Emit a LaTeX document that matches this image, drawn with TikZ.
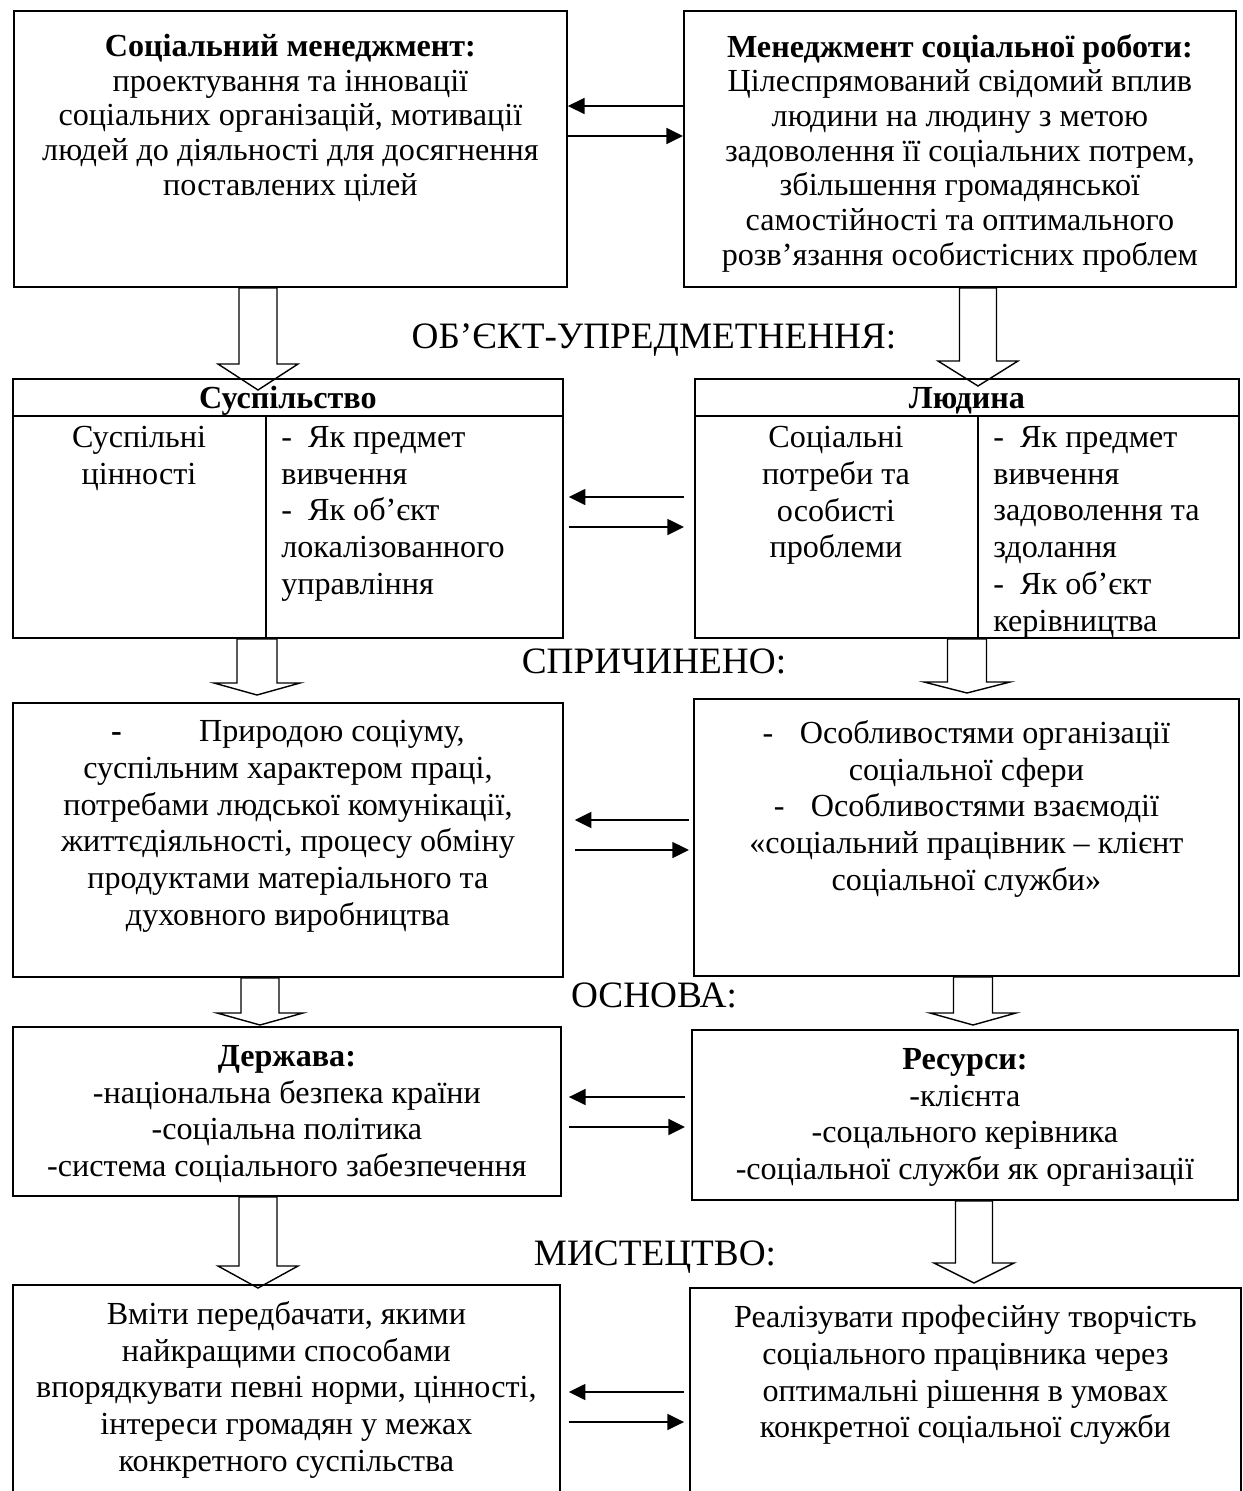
\documentclass[tikz,border=0pt]{standalone}
\usepackage{fontspec}
\setmainfont{Liberation Serif}
\usepackage{tikz}
\usetikzlibrary{positioning, calc, arrows.meta}

\newcommand{\bodysize}{\fontsize{18.3}{20.9}\selectfont}
\newcommand{\topsize}{\fontsize{18.3}{19.7}\selectfont}
\newcommand{\headsize}{\fontsize{21.2}{24}\selectfont}

\tikzstyle{box} = [rectangle, draw=black, line width=1.1pt, anchor=north west, inner sep=0pt]
\tikzstyle{txt} = [anchor=north, align=center, inner sep=0pt, font=\bodysize]
\tikzstyle{txtl} = [anchor=north west, align=left, inner sep=0pt, font=\bodysize]
\tikzstyle{toptxt} = [txt, font=\topsize]
\tikzstyle{heading} = [anchor=base, inner sep=0pt, font=\headsize]
\tikzstyle{arrow} = [line width=1.3pt, -{Triangle[length=9.5pt, width=9pt]}]
\tikzstyle{hollow} = [line width=0.8pt, line join=miter]

\newcommand{\hollowdown}[7]{%
    \draw [hollow] (#3-#4,0 |- #1.south) -- (#3-#4,#6) -- (#3-#5,#6)
        -- ($(#3,0 |- #2.north)+(0,#7)$) -- (#3+#5,#6) -- (#3+#4,#6)
        -- (#3+#4,0 |- #1.south) -- cycle;}

\begin{document}
\begin{tikzpicture}[x=0.02cm, y=-0.02cm]
                \useasboundingbox (0,0) rectangle (1242,1491);

                \node (sm) [box, minimum width=11.06cm, minimum height=5.52cm] at (13,10) {};
                \node (msr) [box, minimum width=11.04cm, minimum height=5.52cm] at (683,10) {};
                \node (smtext) [toptxt, below=0.48cm of sm.north] {\textbf{Соціальний менеджмент:}\\проектування та інновації\\соціальних організацій, мотивації\\людей до діяльності для досягнення\\поставлених цілей};
                \node (msrtext) [toptxt, below=0.48cm of msr.north] {\textbf{Менеджмент соціальної роботи:}\\Цілеспрямований свідомий вплив\\людини на людину з метою\\задоволення її соціальних потрем,\\збільшення громадянської\\самостійності та оптимального\\розв’язання особистісних проблем};

                \node (obj) [heading] at (654,348) {ОБ’ЄКТ-УПРЕДМЕТНЕННЯ:};

                \node (su) [box, minimum width=11cm, minimum height=5.18cm] at (12,378) {};
                \node (ld) [box, minimum width=10.88cm, minimum height=5.18cm] at (694,378) {};
                \draw [line width=1.1pt] (su.west |- 0,416) -- (su.east |- 0,416);
                \draw [line width=1.1pt] (266,416) -- (266,0 |- su.south);
                \draw [line width=1.1pt] (ld.west |- 0,416) -- (ld.east |- 0,416);
                \draw [line width=1.1pt] (978,416) -- (978,0 |- ld.south);
                \node (suhead) [txt, anchor=base] at (su.north |- 0,408) {\textbf{Суспільство}};
                \node (ldhead) [txt, anchor=base] at (ld.north |- 0,408) {\textbf{Людина}};
                \node (sucol1) [txt] at (139,426) {Суспільні\\цінності};
                \node (sucol2) [txtl] at (281,426) {-~~Як предмет\\вивчення\\-~~Як об’єкт\\локалізованного\\управління};
                \node (ldcol1) [txt] at (836,426) {Соціальні\\потреби та\\особисті\\проблеми};
                \node (ldcol2) [txtl] at (993,426) {-~~Як предмет\\вивчення\\задоволення та\\здолання\\-~~Як об’єкт\\керівництва};

                \node (cause) [heading] at (654,673) {СПРИЧИНЕНО:};

                \node (pr) [box, minimum width=11cm, minimum height=5.48cm] at (12,702) {};
                \node (os) [box, minimum width=10.9cm, minimum height=5.54cm] at (693,698) {};
                \node (prtext) [txt, below=0.36cm of pr.north] {\textbf{-}\hspace{44pt}Природою соціуму,\\суспільним характером праці,\\потребами людської комунікації,\\життєдіяльності, процесу обміну\\продуктами матеріального та\\духовного виробництва};
                \node (ostext) [txt, below=0.44cm of os.north] {-\hspace{15pt}Особливостями організації\\соціальної сфери\\-\hspace{15pt}Особливостями взаємодії\\«соціальний працівник – клієнт\\соціальної служби»};

                \node (base) [heading] at (654,1007) {ОСНОВА:};

                \node (dz) [box, minimum width=10.96cm, minimum height=3.38cm] at (12,1026) {};
                \node (rs) [box, minimum width=10.92cm, minimum height=3.4cm] at (691,1029) {};
                \node (dztext) [txt, below=0.38cm of dz.north] {\textbf{Держава:}\\-національна безпека країни\\-соціальна політика\\-система соціального забезпечення};
                \node (rstext) [txt, below=0.38cm of rs.north] {\textbf{Ресурси:}\\-клієнта\\-соцального керівника\\-соціальної служби як організації};

                \node (art) [heading] at (655,1265) {МИСТЕЦТВО:};

                \node (vm) [box, minimum width=10.94cm, minimum height=4.3cm] at (12,1284) {};
                \node (rp) [box, minimum width=11.02cm, minimum height=4.24cm] at (689,1287) {};
                \node (vmtext) [txt, below=0.34cm of vm.north] {Вміти передбачати, якими\\найкращими способами\\впорядкувати певні норми, цінності,\\інтереси громадян у межах\\конкретного суспільства};
                \node (rptext) [txt, below=0.36cm of rp.north] {Реалізувати професійну творчість\\соціального працівника через\\оптимальні рішення в умовах\\конкретної соціальної служби};

                \draw [arrow] (msr.west |- 0,106) -- (sm.east |- 0,106);
                \draw [arrow] (sm.east |- 0,136) -- (msr.west |- 0,136);
                \draw [arrow, shorten <=5.7pt, shorten >=2.8pt] (ld.west |- 0,497) -- (su.east |- 0,497);
                \draw [arrow, shorten <=2.8pt, shorten >=5.7pt] (su.east |- 0,527) -- (ld.west |- 0,527);
                \draw [arrow, shorten <=2.3pt, shorten >=6.2pt] (os.west |- 0,820) -- (pr.east |- 0,820);
                \draw [arrow, shorten <=6.2pt, shorten >=2.3pt] (pr.east |- 0,850) -- (os.west |- 0,850);
                \draw [arrow, shorten <=3.4pt, shorten >=4pt] (rs.west |- 0,1097) -- (dz.east |- 0,1097);
                \draw [arrow, shorten <=4pt, shorten >=3.4pt] (dz.east |- 0,1127) -- (rs.west |- 0,1127);
                \draw [arrow, shorten <=2.8pt, shorten >=4.5pt] (rp.west |- 0,1392) -- (vm.east |- 0,1392);
                \draw [arrow, shorten <=4.5pt, shorten >=2.8pt] (vm.east |- 0,1422) -- (rp.west |- 0,1422);

                \hollowdown{sm}{su}{258}{19}{40}{364}{12}
                \hollowdown{msr}{ld}{978}{18.5}{40}{361}{8}
                \hollowdown{su}{pr}{257}{20}{43}{683}{-7}
                \hollowdown{ld}{os}{967}{19.5}{43}{682}{-5}
                \hollowdown{pr}{dz}{260}{19}{43}{1013}{-1}
                \hollowdown{os}{rs}{973}{19.5}{43}{1013}{-4}
                \hollowdown{dz}{vm}{258}{19}{40}{1266}{4}
                \hollowdown{rs}{rp}{974}{18.5}{40}{1263}{-4}
            \end{tikzpicture}
\end{document}
